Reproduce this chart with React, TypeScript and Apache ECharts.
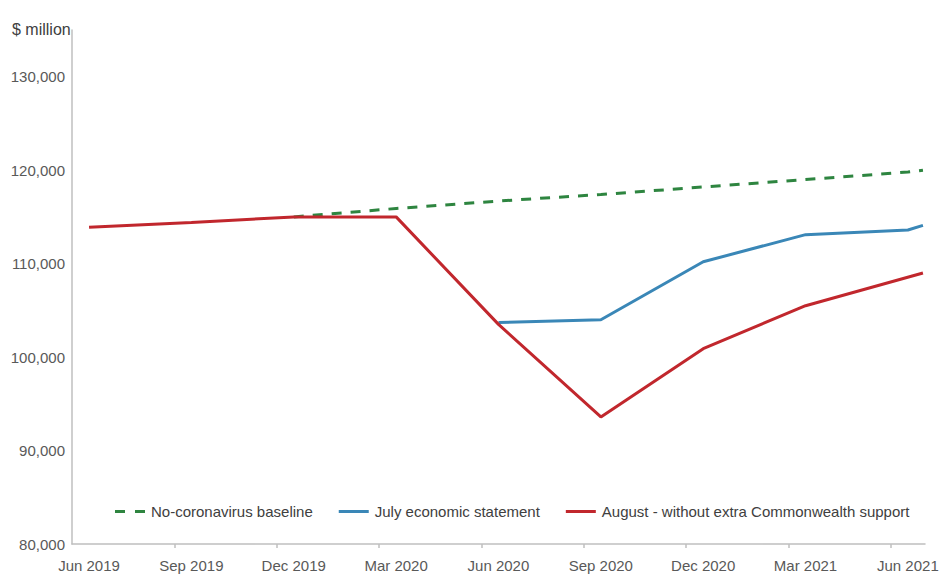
import React, { useEffect, useRef } from "react";
import * as echarts from "echarts";

// x positions are months since start of Jun 2019 (point sits mid-month)
const tickLabels = ["Jun 2019", "Sep 2019", "Dec 2019", "Mar 2020", "Jun 2020", "Sep 2020", "Dec 2020", "Mar 2021", "Jun 2021"];
const yTicks = [80000, 90000, 100000, 110000, 120000, 130000];

const baselineX = [6.5, 9.5, 12.5, 15.5, 18.5, 21.5, 24.5, 24.94];
const baselineY = [115000, 115900, 116700, 117400, 118200, 119000, 119800, 120000];

const julyX = [12.5, 15.5, 18.5, 21.5, 24.5, 24.94];
const julyY = [103700, 104000, 110200, 113100, 113600, 114100];

const augustX = [0.5, 3.5, 6.5, 9.5, 12.5, 15.5, 18.5, 21.5, 24.94];
const augustY = [113900, 114400, 115000, 115000, 103500, 93600, 100900, 105500, 109000];

const FONT = "'Liberation Sans', Arial, sans-serif";

function pairs(xs: number[], ys: number[]) {
  return xs.map((x, i) => [x, ys[i]]);
}

const SOLID_ICON = "path://M0,0 H30 V3 H0 Z";
const DASH_ICON = "path://M0,0 H10 V3 H0 Z M20,0 H30 V3 H20 Z";

export default function App() {
  const ref = useRef<HTMLDivElement>(null);
  useEffect(() => {
    if (!ref.current) return;
    const chart = echarts.init(ref.current, null, { renderer: "svg" });
    chart.setOption({
      animation: false,
      backgroundColor: "#ffffff",
      title: {
        text: "$ million",
        left: 7,
        top: 16,
        textStyle: { fontFamily: FONT, fontSize: 16, fontWeight: "normal", color: "#404040" },
      },
      grid: { left: 72, right: 20, top: 30, bottom: 34 },
      legend: {
        left: 110,
        top: 499,
        width: 830,
        itemWidth: 32,
        itemHeight: 3,
        itemGap: 26,
        textStyle: { fontFamily: FONT, fontSize: 15, color: "#404040" },
        data: [
          { name: "No-coronavirus baseline", icon: DASH_ICON },
          { name: "July economic statement", icon: SOLID_ICON },
          { name: "August - without extra Commonwealth support", icon: SOLID_ICON },
        ],
      },
      xAxis: {
        type: "value",
        min: 0,
        max: 25,
        interval: 3,
        axisLine: { show: true, lineStyle: { color: "#bfbfbf", width: 1.5 } },
        axisTick: {
          show: true,
          length: 4,
          customValues: [3, 6, 9, 12, 15, 18, 21, 24],
          lineStyle: { color: "#bfbfbf", width: 1.5 },
        },
        splitLine: { show: false },
        axisLabel: {
          customValues: [0, 3, 6, 9, 12, 15, 18, 21, 24],
          formatter: (v: number) => tickLabels[Math.round(v / 3)] ?? "",
          padding: [0, 0, 0, 34],
          margin: 14,
          fontFamily: FONT,
          fontSize: 15,
          color: "#595959",
        },
      },
      yAxis: {
        type: "value",
        min: 80000,
        max: 135000,
        interval: 10000,
        axisLine: { show: true, lineStyle: { color: "#bfbfbf", width: 1.5 } },
        axisTick: { show: false },
        splitLine: { show: false },
        axisLabel: {
          customValues: yTicks,
          formatter: (v: number) => v.toLocaleString("en-US"),
          margin: 7,
          fontFamily: FONT,
          fontSize: 15,
          color: "#595959",
        },
      },
      series: [
        {
          name: "No-coronavirus baseline",
          type: "line",
          data: pairs(baselineX, baselineY),
          symbol: "none",
          z: 1,
          color: "#2e8540",
          lineStyle: { color: "#2e8540", width: 3, type: [10, 9] },
        },
        {
          name: "July economic statement",
          type: "line",
          data: pairs(julyX, julyY),
          symbol: "none",
          z: 2,
          color: "#3a87b7",
          lineStyle: { color: "#3a87b7", width: 3 },
        },
        {
          name: "August - without extra Commonwealth support",
          type: "line",
          data: pairs(augustX, augustY),
          symbol: "none",
          z: 3,
          color: "#c1272d",
          lineStyle: { color: "#c1272d", width: 3 },
        },
      ],
    });
    return () => chart.dispose();
  }, []);
  return (
    <div
      ref={ref}
      style={{ position: "absolute", left: 0, top: 0, width: 945, height: 578 }}
    />
  );
}
